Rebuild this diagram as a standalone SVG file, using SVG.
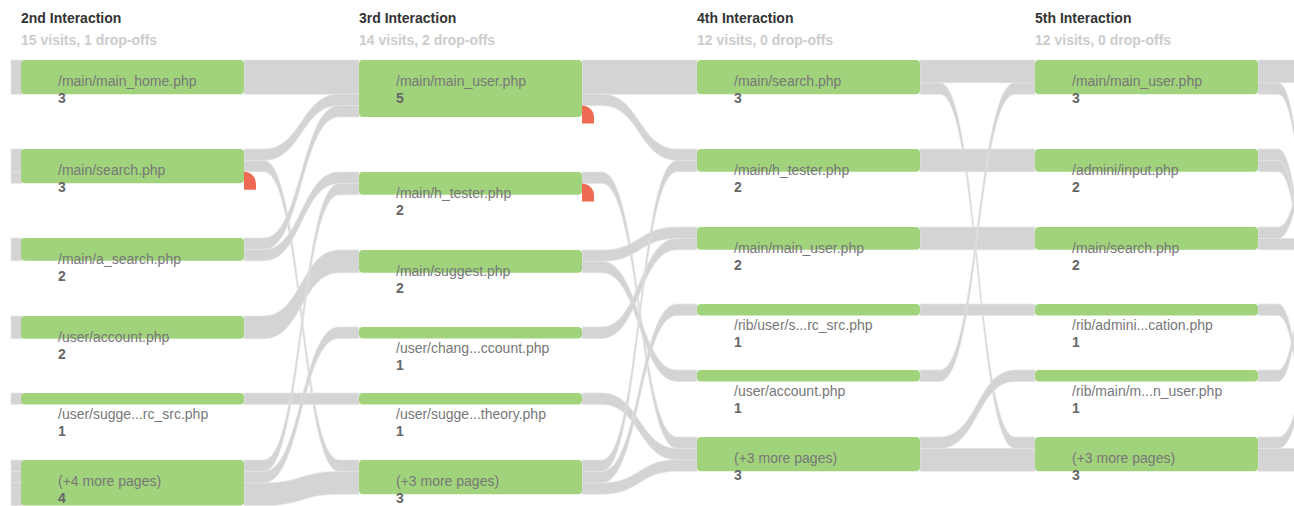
<svg xmlns="http://www.w3.org/2000/svg" width="1294" height="506" viewBox="0 0 1294 506">
<style>
.lk{fill:#d4d4d4;stroke:#e4e4e4;stroke-width:0.7}
.nd{fill:#a1d37c}
.drop{fill:#ee6a52}
.hd{font-family:"Liberation Sans",Arial,sans-serif;font-size:14px;font-weight:bold;fill:#333}
.sub{font-family:"Liberation Sans",Arial,sans-serif;font-size:14px;font-weight:bold;fill:#cccccc}
.lb{font-family:"Liberation Sans",Arial,sans-serif;font-size:14px;fill:#777}
.ct{font-family:"Liberation Sans",Arial,sans-serif;font-size:14px;font-weight:bold;fill:#666}
</style>
<rect width="1294" height="506" fill="#ffffff"/>
<g id="headers">
<text class="hd" x="21" y="23">2nd Interaction</text>
<text class="sub" x="21" y="45">15 visits, 1 drop-offs</text>
<text class="hd" x="359" y="23">3rd Interaction</text>
<text class="sub" x="359" y="45">14 visits, 2 drop-offs</text>
<text class="hd" x="697" y="23">4th Interaction</text>
<text class="sub" x="697" y="45">12 visits, 0 drop-offs</text>
<text class="hd" x="1035" y="23">5th Interaction</text>
<text class="sub" x="1035" y="45">12 visits, 0 drop-offs</text>
</g>
<g id="connectors">
<rect class="lk" x="11" y="60" width="11" height="34.2"/>
<rect class="lk" x="11" y="149" width="11" height="22.8"/>
<rect class="lk" x="11" y="171.8" width="11" height="11.4"/>
<rect class="lk" x="11" y="238" width="11" height="22.8"/>
<rect class="lk" x="11" y="316" width="11" height="22.8"/>
<rect class="lk" x="11" y="393" width="11" height="11.4"/>
<rect class="lk" x="11" y="460" width="11" height="11.4"/>
<rect class="lk" x="11" y="471.4" width="11" height="11.4"/>
<rect class="lk" x="11" y="482.8" width="11" height="22.8"/>

<rect class="lk" x="244" y="60" width="115" height="34.2"/>
<path class="lk" d="M244,149H264C301.5,149 301.5,94.2 339,94.2H359V105.6H339C301.5,105.6 301.5,160.4 264,160.4H244Z"/>
<path class="lk" d="M244,160.4H264C301.5,160.4 301.5,460 339,460H359V471.4H339C301.5,471.4 301.5,171.8 264,171.8H244Z"/>
<path class="lk" d="M244,238H264C301.5,238 301.5,105.6 339,105.6H359V117H339C301.5,117 301.5,249.4 264,249.4H244Z"/>
<path class="lk" d="M244,249.4H264C301.5,249.4 301.5,172 339,172H359V183.4H339C301.5,183.4 301.5,260.8 264,260.8H244Z"/>
<path class="lk" d="M244,316H264C301.5,316 301.5,250 339,250H359V272.8H339C301.5,272.8 301.5,338.8 264,338.8H244Z"/>
<rect class="lk" x="244" y="393" width="115" height="11.4"/>
<path class="lk" d="M244,460H264C301.5,460 301.5,183.4 339,183.4H359V194.8H339C301.5,194.8 301.5,471.4 264,471.4H244Z"/>
<path class="lk" d="M244,471.4H264C301.5,471.4 301.5,327 339,327H359V338.4H339C301.5,338.4 301.5,482.8 264,482.8H244Z"/>
<path class="lk" d="M244,482.8H264C301.5,482.8 301.5,471.4 339,471.4H359V494.2H339C301.5,494.2 301.5,505.6 264,505.6H244Z"/>

<rect class="lk" x="582" y="60" width="115" height="34.2"/>
<path class="lk" d="M582,94.2H602C639.5,94.2 639.5,149 677,149H697V160.4H677C639.5,160.4 639.5,105.6 602,105.6H582Z"/>
<path class="lk" d="M582,172H602C639.5,172 639.5,437 677,437H697V448.4H677C639.5,448.4 639.5,183.4 602,183.4H582Z"/>
<path class="lk" d="M582,250H602C639.5,250 639.5,227 677,227H697V238.4H677C639.5,238.4 639.5,261.4 602,261.4H582Z"/>
<path class="lk" d="M582,261.4H602C639.5,261.4 639.5,370 677,370H697V381.4H677C639.5,381.4 639.5,272.8 602,272.8H582Z"/>
<path class="lk" d="M582,327H602C639.5,327 639.5,238.4 677,238.4H697V249.8H677C639.5,249.8 639.5,338.4 602,338.4H582Z"/>
<path class="lk" d="M582,393H602C639.5,393 639.5,448.4 677,448.4H697V459.8H677C639.5,459.8 639.5,404.4 602,404.4H582Z"/>
<path class="lk" d="M582,460H602C639.5,460 639.5,160.4 677,160.4H697V171.8H677C639.5,171.8 639.5,471.4 602,471.4H582Z"/>
<path class="lk" d="M582,471.4H602C639.5,471.4 639.5,304 677,304H697V315.4H677C639.5,315.4 639.5,482.8 602,482.8H582Z"/>
<path class="lk" d="M582,482.8H602C639.5,482.8 639.5,459.8 677,459.8H697V471.2H677C639.5,471.2 639.5,494.2 602,494.2H582Z"/>

<rect class="lk" x="920" y="60" width="115" height="22.8"/>
<path class="lk" d="M920,82.8H940C977.5,82.8 977.5,437 1015,437H1035V448.4H1015C977.5,448.4 977.5,94.2 940,94.2H920Z"/>
<rect class="lk" x="920" y="149" width="115" height="22.8"/>
<rect class="lk" x="920" y="227" width="115" height="22.8"/>
<rect class="lk" x="920" y="304" width="115" height="11.4"/>
<path class="lk" d="M920,370H940C977.5,370 977.5,82.8 1015,82.8H1035V94.2H1015C977.5,94.2 977.5,381.4 940,381.4H920Z"/>
<path class="lk" d="M920,437H940C977.5,437 977.5,370 1015,370H1035V381.4H1015C977.5,381.4 977.5,448.4 940,448.4H920Z"/>
<rect class="lk" x="920" y="448.4" width="115" height="22.8"/>

<rect class="lk" x="1258" y="60" width="40" height="22.8"/>
<path class="lk" d="M1258,82.8H1278C1299,82.8 1299,232.8 1320,232.8H1373V244.2H1320C1299,244.2 1299,94.2 1278,94.2H1258Z"/>
<path class="lk" d="M1258,149H1278C1299,149 1299,299 1320,299H1373V310.4H1320C1299,310.4 1299,160.4 1278,160.4H1258Z"/>
<path class="lk" d="M1258,160.4H1278C1299,160.4 1299,310.4 1320,310.4H1373V321.8H1320C1299,321.8 1299,171.8 1278,171.8H1258Z"/>
<path class="lk" d="M1258,227H1278C1299,227 1299,127 1320,127H1373V138.4H1320C1299,138.4 1299,238.4 1278,238.4H1258Z"/>
<rect class="lk" x="1258" y="238.4" width="40" height="11.4"/>
<path class="lk" d="M1258,304H1278C1299,304 1299,454 1320,454H1373V465.4H1320C1299,465.4 1299,315.4 1278,315.4H1258Z"/>
<path class="lk" d="M1258,370H1278C1299,370 1299,220 1320,220H1373V231.4H1320C1299,231.4 1299,381.4 1278,381.4H1258Z"/>
<path class="lk" d="M1258,437H1278C1299,437 1299,357 1320,357H1373V368.4H1320C1299,368.4 1299,448.4 1278,448.4H1258Z"/>
<rect class="lk" x="1258" y="448.4" width="40" height="22.8"/>
</g>

<g id="c2-n1"><rect class="nd" x="21" y="60" width="223" height="34.2" rx="4"/><text class="lb" x="58" y="85.5">/main/main_home.php</text><text class="ct" x="58" y="103">3</text></g>
<g id="c2-n2"><rect class="nd" x="21" y="149" width="223" height="34.2" rx="4"/><path class="drop" d="M244,171.8A12,12 0 0 1 256,183.8V189.8H244Z"/><text class="lb" x="58" y="174.5">/main/search.php</text><text class="ct" x="58" y="192">3</text></g>
<g id="c2-n3"><rect class="nd" x="21" y="238" width="223" height="22.8" rx="4"/><text class="lb" x="58" y="263.5">/main/a_search.php</text><text class="ct" x="58" y="281">2</text></g>
<g id="c2-n4"><rect class="nd" x="21" y="316" width="223" height="22.8" rx="4"/><text class="lb" x="58" y="341.5">/user/account.php</text><text class="ct" x="58" y="359">2</text></g>
<g id="c2-n5"><rect class="nd" x="21" y="393" width="223" height="11.4" rx="4"/><text class="lb" x="58" y="418.5">/user/sugge...rc_src.php</text><text class="ct" x="58" y="436">1</text></g>
<g id="c2-n6"><rect class="nd" x="21" y="460" width="223" height="45.6" rx="4"/><text class="lb" x="58" y="485.5">(+4 more pages)</text><text class="ct" x="58" y="503">4</text></g>

<g id="c3-n1"><rect class="nd" x="359" y="60" width="223" height="57" rx="4"/><path class="drop" d="M582,105.6A12,12 0 0 1 594,117.6V123.6H582Z"/><text class="lb" x="396" y="85.5">/main/main_user.php</text><text class="ct" x="396" y="103">5</text></g>
<g id="c3-n2"><rect class="nd" x="359" y="172" width="223" height="22.8" rx="4"/><path class="drop" d="M582,183.4A12,12 0 0 1 594,195.4V201.4H582Z"/><text class="lb" x="396" y="197.5">/main/h_tester.php</text><text class="ct" x="396" y="215">2</text></g>
<g id="c3-n3"><rect class="nd" x="359" y="250" width="223" height="22.8" rx="4"/><text class="lb" x="396" y="275.5">/main/suggest.php</text><text class="ct" x="396" y="293">2</text></g>
<g id="c3-n4"><rect class="nd" x="359" y="327" width="223" height="11.4" rx="4"/><text class="lb" x="396" y="352.5">/user/chang...ccount.php</text><text class="ct" x="396" y="370">1</text></g>
<g id="c3-n5"><rect class="nd" x="359" y="393" width="223" height="11.4" rx="4"/><text class="lb" x="396" y="418.5">/user/sugge...theory.php</text><text class="ct" x="396" y="436">1</text></g>
<g id="c3-n6"><rect class="nd" x="359" y="460" width="223" height="34.2" rx="4"/><text class="lb" x="396" y="485.5">(+3 more pages)</text><text class="ct" x="396" y="503">3</text></g>

<g id="c4-n1"><rect class="nd" x="697" y="60" width="223" height="34.2" rx="4"/><text class="lb" x="734" y="85.5">/main/search.php</text><text class="ct" x="734" y="103">3</text></g>
<g id="c4-n2"><rect class="nd" x="697" y="149" width="223" height="22.8" rx="4"/><text class="lb" x="734" y="174.5">/main/h_tester.php</text><text class="ct" x="734" y="192">2</text></g>
<g id="c4-n3"><rect class="nd" x="697" y="227" width="223" height="22.8" rx="4"/><text class="lb" x="734" y="252.5">/main/main_user.php</text><text class="ct" x="734" y="270">2</text></g>
<g id="c4-n4"><rect class="nd" x="697" y="304" width="223" height="11.4" rx="4"/><text class="lb" x="734" y="329.5">/rib/user/s...rc_src.php</text><text class="ct" x="734" y="347">1</text></g>
<g id="c4-n5"><rect class="nd" x="697" y="370" width="223" height="11.4" rx="4"/><text class="lb" x="734" y="395.5">/user/account.php</text><text class="ct" x="734" y="413">1</text></g>
<g id="c4-n6"><rect class="nd" x="697" y="437" width="223" height="34.2" rx="4"/><text class="lb" x="734" y="462.5">(+3 more pages)</text><text class="ct" x="734" y="480">3</text></g>

<g id="c5-n1"><rect class="nd" x="1035" y="60" width="223" height="34.2" rx="4"/><text class="lb" x="1072" y="85.5">/main/main_user.php</text><text class="ct" x="1072" y="103">3</text></g>
<g id="c5-n2"><rect class="nd" x="1035" y="149" width="223" height="22.8" rx="4"/><text class="lb" x="1072" y="174.5">/admini/input.php</text><text class="ct" x="1072" y="192">2</text></g>
<g id="c5-n3"><rect class="nd" x="1035" y="227" width="223" height="22.8" rx="4"/><text class="lb" x="1072" y="252.5">/main/search.php</text><text class="ct" x="1072" y="270">2</text></g>
<g id="c5-n4"><rect class="nd" x="1035" y="304" width="223" height="11.4" rx="4"/><text class="lb" x="1072" y="329.5">/rib/admini...cation.php</text><text class="ct" x="1072" y="347">1</text></g>
<g id="c5-n5"><rect class="nd" x="1035" y="370" width="223" height="11.4" rx="4"/><text class="lb" x="1072" y="395.5">/rib/main/m...n_user.php</text><text class="ct" x="1072" y="413">1</text></g>
<g id="c5-n6"><rect class="nd" x="1035" y="437" width="223" height="34.2" rx="4"/><text class="lb" x="1072" y="462.5">(+3 more pages)</text><text class="ct" x="1072" y="480">3</text></g>
</svg>
